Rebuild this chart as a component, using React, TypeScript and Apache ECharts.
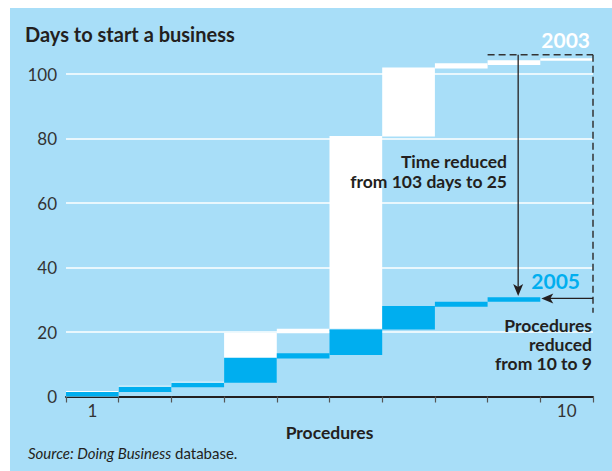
import { useEffect, useRef } from 'react';
import * as echarts from 'echarts';

// Procedures on the x axis
const procedures = ['1', '2', '3', '4', '5', '6', '7', '8', '9', '10'];
const shownProcedureLabels = ['1', '10'];

// 2003: cumulative days at start and end of each procedure (white steps)
const start2003 = [0, 1.7, 3.35, 4.6, 19.6, 21, 80.6, 101.7, 102.8, 104.1];
const end2003 = [1.7, 3.35, 4.6, 19.8, 21.0, 80.8, 102, 103.3, 104.3, 104.9];

// 2005: cumulative days at start and end of each procedure (blue steps), 9 procedures
const start2005 = [0, 1.4, 2.9, 4.3, 11.8, 12.9, 20.8, 27.8, 29.4];
const end2005 = [1.4, 3.0, 4.3, 12.0, 13.4, 20.8, 28.1, 29.4, 30.8];

// y axis ticks
const yMin = 0;
const yMax = 100;
const yStep = 20;

export default function App() {
  const ref = useRef<HTMLDivElement>(null);

  useEffect(() => {
    const chart = echarts.init(ref.current!, null, { renderer: 'svg' });
    const font = 'Lato, "Open Sans", sans-serif';
    const dark = '#231f20';
    const blue = '#00aeef';

    const pad = (arr: number[]) => procedures.map((_, i) => (i < arr.length ? arr[i] : '-'));
    const base2003 = pad(start2003);
    const delta2003 = pad(end2003.map((v, i) => +(v - start2003[i]).toFixed(3)));
    const base2005 = pad(start2005);
    const delta2005 = pad(end2005.map((v, i) => +(v - start2005[i]).toFixed(3)));

    const barCommon = {
      type: 'bar',
      barCategoryGap: '0%',
      barGap: '-100%',
      clip: false,
      silent: true,
    };

    chart.setOption({
      animation: false,
      grid: { left: 66, right: 19, top: 74, bottom: 74.5, containLabel: false },
      xAxis: {
        type: 'category',
        data: procedures,
        boundaryGap: true,
        axisLine: { show: true, lineStyle: { color: dark, width: 2 } },
        axisTick: { show: true, interval: 0, length: 6, lineStyle: { color: '#555', width: 1.2 } },
        axisLabel: {
          interval: (_i: number, v: string) => shownProcedureLabels.includes(v),
          color: '#333',
          fontSize: 17,
          fontFamily: font,
          margin: 5,
        },
        splitLine: { show: false },
        name: 'Procedures',
        nameLocation: 'middle',
        nameGap: 26,
        nameTextStyle: { color: dark, fontSize: 17.5, fontWeight: 'bold', fontFamily: font },
      },
      yAxis: {
        type: 'value',
        min: yMin,
        max: yMax,
        interval: yStep,
        axisLine: { show: false },
        axisTick: { show: false },
        axisLabel: { color: '#333', fontSize: 17, fontFamily: font, margin: 9 },
        splitLine: { show: true, lineStyle: { color: '#ffffff', width: 1.5 } },
      },
      series: [
        { ...barCommon, name: 'base2003', stack: 'y2003', data: base2003, itemStyle: { color: 'rgba(0,0,0,0)' } },
        { ...barCommon, name: '2003', stack: 'y2003', data: delta2003, itemStyle: { color: '#ffffff' } },
        { ...barCommon, name: 'base2005', stack: 'y2005', data: base2005, itemStyle: { color: 'rgba(0,0,0,0)' } },
        { ...barCommon, name: '2005', stack: 'y2005', data: delta2005, itemStyle: { color: blue } },
      ],
    });

    const px = (i: number) => chart.convertToPixel({ xAxisIndex: 0 }, i) as number;
    const py = (v: number) => chart.convertToPixel({ yAxisIndex: 0 }, v) as number;
    const bandW = px(1) - px(0);
    const b9Left = px(8) - bandW / 2;
    const b9Right = px(8) + bandW / 2;
    const b10Right = px(9) + bandW / 2;
    const boxTop = py(106);
    const boxBottom = py(26);
    const vx = b9Left + bandW * 0.58;
    const vTip = py(31.2);
    const hy = py(30.4);
    const hTip = b9Right + 1;

    const lineStyle = { stroke: dark, lineWidth: 1.3 };
    const dash = { stroke: '#333', lineWidth: 1.5, lineDash: [7, 4] };

    const txt = (x: number, y: number, text: string, opts: any = {}) => ({
      type: 'text',
      x,
      y,
      z: 50,
      style: {
        text,
        fill: dark,
        fontSize: 17.5,
        fontWeight: 'bold',
        fontFamily: font,
        align: 'right',
        textAlign: 'right',
        verticalAlign: 'middle',
        textVerticalAlign: 'middle',
        ...opts,
      },
    });

    chart.setOption({
      graphic: [
        // dashed box
        { type: 'line', z: 40, shape: { x1: b9Left, y1: boxTop, x2: b10Right, y2: boxTop }, style: dash },
        { type: 'line', z: 40, shape: { x1: b10Right, y1: boxTop, x2: b10Right, y2: boxBottom }, style: dash },
        // vertical arrow
        { type: 'line', z: 41, shape: { x1: vx, y1: boxTop, x2: vx, y2: vTip - 8 }, style: lineStyle },
        {
          type: 'polygon', z: 41,
          shape: { points: [[vx, vTip], [vx - 5, vTip - 12], [vx, vTip - 9], [vx + 5, vTip - 12]] },
          style: { fill: dark },
        },
        // horizontal arrow
        { type: 'line', z: 41, shape: { x1: b10Right, y1: hy, x2: hTip + 8, y2: hy }, style: lineStyle },
        {
          type: 'polygon', z: 41,
          shape: { points: [[hTip, hy], [hTip + 12, hy - 5], [hTip + 9, hy], [hTip + 12, hy + 5]] },
          style: { fill: dark },
        },
        // title and annotations
        txt(25, 34, 'Days to start a business', { align: 'left', textAlign: 'left', fontSize: 20 }),
        txt(590, 39, '2003', { fill: '#ffffff', fontSize: 21 }),
        txt(580, 280, '2005', { fill: blue, fontSize: 21 }),
        txt(507, 171, 'Time reduced\nfrom 103 days to 25', { lineHeight: 20 }),
        txt(592, 344, 'Procedures\nreduced\nfrom 10 to 9', { lineHeight: 19 }),
        {
          type: 'text', x: 28, y: 453, z: 50,
          style: {
            text: '{it|Source: Doing Business} database.',
            fill: dark,
            fontSize: 15,
            fontFamily: font,
            verticalAlign: 'middle',
            textVerticalAlign: 'middle',
            rich: { it: { fontStyle: 'italic', fontSize: 15, fontFamily: font, fill: dark, color: dark } },
          },
        },
      ],
    });

    return () => chart.dispose();
  }, []);

  return (
    <div style={{ position: 'fixed', left: 0, top: 0, width: 612, height: 471, background: '#ffffff' }}>
      <div style={{ position: 'absolute', left: 10, top: 8, right: 0, bottom: 0, background: '#a8def8' }} />
      <div ref={ref} style={{ position: 'absolute', left: 0, top: 0, width: 612, height: 471 }} />
    </div>
  );
}
